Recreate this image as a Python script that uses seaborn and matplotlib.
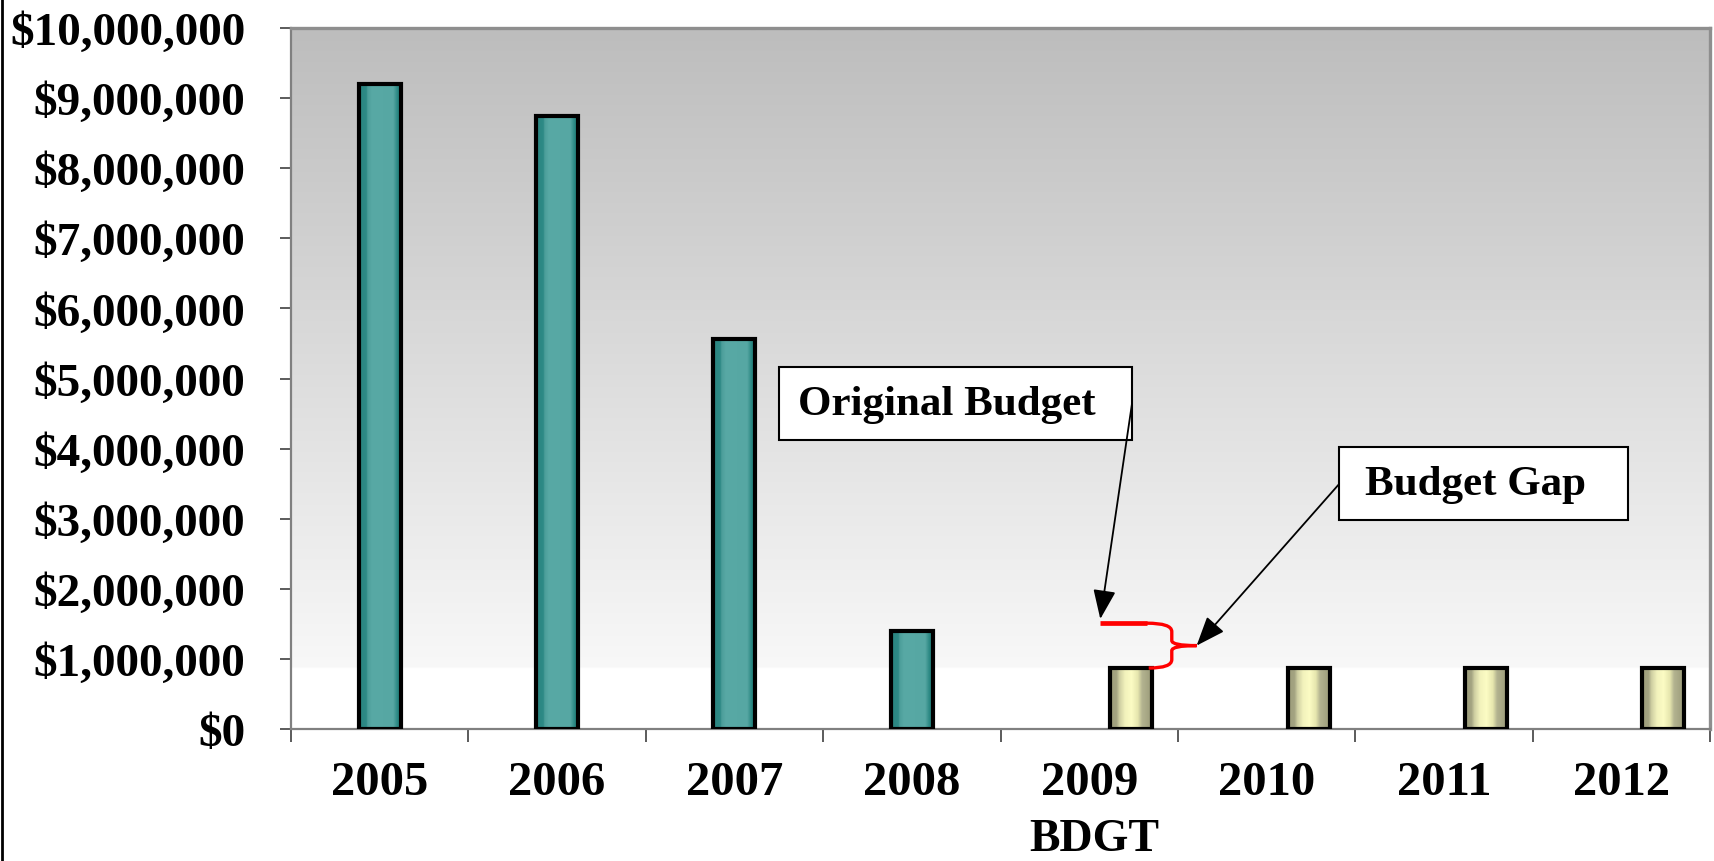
import numpy as np
import pandas as pd
import matplotlib
matplotlib.use("Agg")
import matplotlib.pyplot as plt
from matplotlib.colors import LinearSegmentedColormap
from matplotlib.patches import Rectangle, PathPatch
from matplotlib.path import Path
from matplotlib.ticker import StrMethodFormatter, FixedLocator
import seaborn as sns

# data
years = ["2005", "2006", "2007", "2008", "2009", "2010", "2011", "2012"]
actual_years = ["2005", "2006", "2007", "2008"]
actual_amount = [9200000, 8750000, 5570000, 1400000]
budget_years = ["2009", "2010", "2011", "2012"]
budget_amount = [870000, 870000, 870000, 870000]
original_budget_2009 = 1510000

df = pd.concat([
    pd.DataFrame({"year": actual_years, "amount": actual_amount, "series": "Actual"}),
    pd.DataFrame({"year": budget_years, "amount": budget_amount, "series": "Budget"}),
], ignore_index=True)

sns.set_style("white")
plt.rcParams["font.family"] = ["Liberation Serif", "DejaVu Serif"]
plt.rcParams["font.weight"] = "bold"
plt.rcParams["text.color"] = "black"
plt.rcParams["axes.labelcolor"] = "black"
plt.rcParams["xtick.labelcolor"] = "black"
plt.rcParams["ytick.labelcolor"] = "black"

fig = plt.figure(figsize=(17.15, 8.62), dpi=100)
ax = fig.add_axes([0.1697, 0.1531, 0.8274, 0.8132])

# grey-to-white background of the plot area
bg = LinearSegmentedColormap.from_list(
    "bg", [(0, "#ffffff"), (0.084, "#ffffff"), (0.086, "#f8f8f8"), (1, "#bdbdbd")])
ax.imshow(np.linspace(0, 1, 400).reshape(-1, 1), cmap=bg, origin="lower",
          extent=(0, 1, 0, 1), transform=ax.transAxes, aspect="auto", zorder=0)

sns.barplot(data=df, x="year", y="amount", hue="series",
            hue_order=["Spacer", "Actual", "Budget"], order=years,
            palette={"Spacer": "white", "Actual": "#56a8a4", "Budget": "#f4f4bc"},
            width=0.711, dodge=True, edgecolor="black", linewidth=3.0,
            legend=False, ax=ax, zorder=3)

# cylinder-like shading of the bars
teal = LinearSegmentedColormap.from_list("teal", [
    (0, "#2a8580"), (0.17, "#2e8a86"), (0.2, "#4b9d99"), (0.3, "#58a9a5"),
    (0.8, "#56a7a3"), (0.9, "#2a8782"), (1, "#1e7d78")])
cream = LinearSegmentedColormap.from_list("cream", [
    (0, "#9c9c7a"), (0.15, "#a4a482"), (0.22, "#cfcfa2"), (0.35, "#f2f2bc"),
    (0.5, "#fcfcc4"), (0.65, "#e6e6ae"), (0.75, "#b3b390"), (1, "#999977")])
strip = np.linspace(0, 1, 200).reshape(1, -1)
budget_bars = []
for p in ax.patches:
    h = p.get_height()
    if not h or np.isnan(h):
        continue
    x0, w = p.get_x(), p.get_width()
    is_budget = np.isclose(h, budget_amount[0])
    cmap = cream if is_budget else teal
    if is_budget:
        budget_bars.append(p)
    im = ax.imshow(strip, cmap=cmap, extent=(x0, x0 + w, 0, h),
                   aspect="auto", zorder=2.5)
    im.set_clip_path(p)
    p.set_facecolor("none")

ax.set_xlim(-0.5, len(years) - 0.5)
ax.set_ylim(0, 10000000)

ax.yaxis.set_major_formatter(StrMethodFormatter("${x:,.0f}"))
ax.set_yticks(np.arange(0, 10000001, 1000000))
ax.tick_params(axis="y", labelsize=34, length=8, width=1.2, color="#404040",
               pad=25, left=True, labelcolor="black")
for t in ax.get_yticklabels():
    t.set_fontweight("bold")

# category boundaries carry the tick marks, labels sit between them
ax.xaxis.set_major_locator(FixedLocator(np.arange(-0.5, len(years), 1.0)))
ax.xaxis.set_minor_locator(FixedLocator(np.arange(len(years))))
ax.set_xticklabels([], minor=False)
ax.set_xticklabels(years, minor=True, fontsize=35, fontweight="bold", color="black")
ax.tick_params(axis="x", which="major", length=9, width=1.2, color="#404040",
               bottom=True)
ax.tick_params(axis="x", which="minor", length=0, pad=22)
ax.set_xlabel("BDGT", fontsize=33, fontweight="bold", color="black")
ax.xaxis.label.set_va("baseline")
ax.xaxis.set_label_coords(0.566, -0.173)
ax.set_ylabel("")

for side in ["left", "bottom"]:
    ax.spines[side].set_color("#808080")
    ax.spines[side].set_linewidth(1.6)
for side in ["top", "right"]:
    ax.spines[side].set_visible(True)
    ax.spines[side].set_color("#8e8e8e")
    ax.spines[side].set_linewidth(2.4)

# red brace between the original budget and the 2009 budget
b = budget_bars[0]
bx0, bx1 = b.get_x(), b.get_x() + b.get_width()
bot = b.get_height()
top = original_budget_2009
mid = (top + bot) / 2
xb = bx1 + 0.11
xt = bx1 + 0.25
r = 120000
ax.plot([bx0 - 0.056, bx1 - 0.03], [top, top], color="#ff0000", lw=3.4,
        solid_capstyle="butt", zorder=5)
verts = [(bx1 - 0.03, top), (xb, top), (xb, top - r), (xb, mid + r * 0.6),
         (xb, mid), (xt, mid),
         (bx1 - 0.02, bot), (xb, bot), (xb, bot + r), (xb, mid - r * 0.6),
         (xb, mid), (xt, mid)]
codes = [Path.MOVETO, Path.CURVE3, Path.CURVE3, Path.LINETO, Path.CURVE3, Path.CURVE3] * 2
ax.add_patch(PathPatch(Path(verts, codes), facecolor="none", edgecolor="#ff0000",
                       lw=2.4, zorder=5))

# annotation boxes
boxes = [("Original Budget", 0.344, 0.4123, 0.5927, 0.5164),
         ("Budget Gap", 0.7386, 0.2981, 0.9422, 0.4023)]
for label, x0, y0, x1, y1 in boxes:
    ax.add_patch(Rectangle((x0, y0), x1 - x0, y1 - y0, transform=ax.transAxes,
                           facecolor="white", edgecolor="black", lw=1.5, zorder=6))
    ax.text((x0 + x1) / 2 - 0.006, (y0 + y1) / 2, label, transform=ax.transAxes,
            ha="center", va="center", fontsize=31, fontweight="bold",
            color="black", zorder=7)

arrow = dict(arrowstyle="-|>,head_length=0.9,head_width=0.35", color="black",
             lw=1.3, mutation_scale=20, shrinkA=0, shrinkB=0)
ax.annotate("", xy=(bx0 - 0.056, top + 60000), xycoords="data",
            xytext=(0.5927, 0.465), textcoords="axes fraction",
            arrowprops=arrow, zorder=6)
ax.annotate("", xy=(xt, mid), xycoords="data",
            xytext=(0.7386, 0.3495), textcoords="axes fraction",
            arrowprops=arrow, zorder=6)

# thin frame line on the left edge of the picture
fig.add_artist(plt.Line2D([0.001, 0.001], [0, 1], transform=fig.transFigure,
                          color="black", lw=2))

fig.savefig("out.png", dpi=100)
